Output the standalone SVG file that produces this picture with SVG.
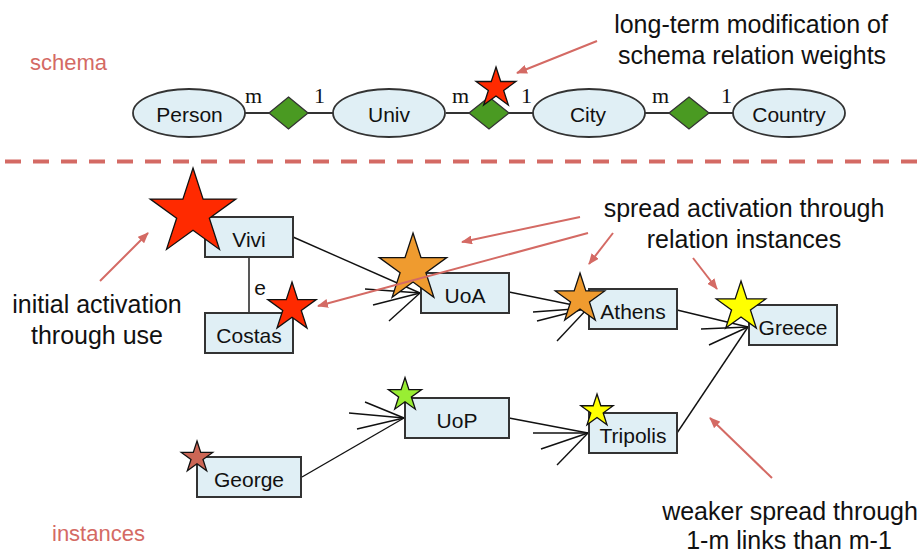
<svg xmlns="http://www.w3.org/2000/svg" xmlns:xlink="http://www.w3.org/1999/xlink" width="921" height="557" viewBox="0 0 921 557">
<style>
  .ann { font-family: "Liberation Sans", Arial, sans-serif; font-size: 25px; fill: #111; text-anchor: middle; }
  .sec { font-family: "Liberation Sans", Arial, sans-serif; font-size: 22px; fill: #d46a64; }
  .lbl { font-family: "Liberation Sans", Arial, sans-serif; font-size: 21px; fill: #111; text-anchor: middle; }
  .card { font-family: "Liberation Serif", "Times New Roman", serif; font-size: 22px; fill: #111; }
  .ent { fill: #e0eff5; stroke: #333; stroke-width: 1.8; }
  .box { fill: #e0eff5; stroke: #333; stroke-width: 2; }
  .dia { fill: #4a9a22; stroke: #333; stroke-width: 1.3; }
  .slink { stroke: #333; stroke-width: 2; fill: none; }
  .link { stroke: #111; stroke-width: 1.4; fill: none; }
  .note { stroke: #d46a64; stroke-width: 2; fill: none; marker-end: url(#ah); }
  .star { stroke: #111; stroke-width: 1.3; }
</style>
<defs>
  <marker id="ah" markerUnits="userSpaceOnUse" markerWidth="11" markerHeight="9" refX="10" refY="4.5" orient="auto">
    <path d="M0,0 L11,4.5 L0,9 z" fill="#d46a64"/>
  </marker>
  <polygon id="st" vector-effect="non-scaling-stroke" points="0,-1 0.2245,-0.309 0.9511,-0.309 0.3633,0.118 0.5878,0.809 0,0.382 -0.5878,0.809 -0.3633,0.118 -0.9511,-0.309 -0.2245,-0.309"/>
</defs>
<rect width="921" height="557" fill="#fff"/>

<!-- section labels -->
<text class="sec" x="30" y="70">schema</text>
<text class="sec" x="52" y="541">instances</text>
<line x1="5" y1="161.5" x2="921" y2="161.5" stroke="#d46a64" stroke-width="4" stroke-dasharray="16 12"/>

<!-- schema connectors -->
<g id="schema-links">
  <line class="slink" x1="245" y1="113" x2="269" y2="113"/>
  <line class="slink" x1="308" y1="113" x2="333" y2="113"/>
  <line class="slink" x1="446" y1="113" x2="469" y2="113"/>
  <line class="slink" x1="509" y1="113" x2="533" y2="113"/>
  <line class="slink" x1="645" y1="113" x2="669" y2="113"/>
  <line class="slink" x1="709" y1="113" x2="733" y2="113"/>
</g>
<g id="schema-cards">
  <text class="card" x="245" y="103">m</text>
  <text class="card" x="314" y="103">1</text>
  <text class="card" x="452" y="103">m</text>
  <text class="card" x="521" y="103">1</text>
  <text class="card" x="652" y="103">m</text>
  <text class="card" x="721" y="103">1</text>
</g>
<g id="Person"><ellipse class="ent" cx="189" cy="113" rx="56" ry="24"/><text class="lbl" x="189.5" y="122">Person</text></g>
<g id="Univ"><ellipse class="ent" cx="389" cy="113" rx="56" ry="24"/><text class="lbl" x="389" y="122">Univ</text></g>
<g id="City"><ellipse class="ent" cx="589" cy="113" rx="56" ry="24"/><text class="lbl" x="588" y="122">City</text></g>
<g id="Country"><ellipse class="ent" cx="789" cy="113" rx="56" ry="24"/><text class="lbl" x="789" y="122">Country</text></g>
<g id="rel1"><polygon class="dia" points="288.5,97 308,113 288.5,129 269,113"/></g>
<g id="rel2"><polygon class="dia" points="489,97 509,113 489,129 469,113"/></g>
<g id="rel3"><polygon class="dia" points="689,97 709,113 689,129 669,113"/></g>
<use xlink:href="#st" class="star" fill="#ff2a00" transform="translate(496 88) scale(21)"/>

<!-- instance connectors -->
<g id="connectors">
  <line class="link" x1="249" y1="257" x2="249" y2="313"/>
  <!-- into UoA -->
  <line class="link" x1="293" y1="237" x2="420" y2="293"/>
  <line class="link" x1="365" y1="289" x2="420" y2="293"/>
  <line class="link" x1="373" y1="305" x2="420" y2="293"/>
  <line class="link" x1="389" y1="321" x2="420" y2="293"/>
  <!-- into Athens -->
  <line class="link" x1="509" y1="292" x2="588" y2="308"/>
  <line class="link" x1="533" y1="312" x2="588" y2="308"/>
  <line class="link" x1="537" y1="321" x2="588" y2="308"/>
  <line class="link" x1="557" y1="341" x2="588" y2="308"/>
  <!-- into Greece -->
  <line class="link" x1="677" y1="310" x2="748" y2="327"/>
  <line class="link" x1="701" y1="329" x2="748" y2="327"/>
  <line class="link" x1="709" y1="345" x2="748" y2="327"/>
  <line class="link" x1="677" y1="433" x2="748" y2="327"/>
  <!-- into UoP -->
  <line class="link" x1="302" y1="477" x2="404" y2="418"/>
  <line class="link" x1="365" y1="402" x2="404" y2="418"/>
  <line class="link" x1="349" y1="413" x2="404" y2="418"/>
  <line class="link" x1="357" y1="429" x2="404" y2="418"/>
  <!-- into Tripolis -->
  <line class="link" x1="509" y1="418" x2="588" y2="433"/>
  <line class="link" x1="533" y1="433" x2="588" y2="433"/>
  <line class="link" x1="541" y1="449" x2="588" y2="433"/>
  <line class="link" x1="557" y1="465" x2="588" y2="433"/>
</g>
<text class="lbl" x="260" y="295">e</text>

<!-- instance nodes -->
<g id="Vivi"><rect class="box" x="205" y="217" width="88" height="40"/><text class="lbl" x="249" y="247">Vivi</text></g>
<g id="Costas"><rect class="box" x="205" y="313" width="88" height="40"/><text class="lbl" x="249" y="343">Costas</text></g>
<g id="UoA"><rect class="box" x="421" y="273" width="88" height="40"/><text class="lbl" x="465" y="303">UoA</text></g>
<g id="Athens"><rect class="box" x="589" y="289" width="88" height="40"/><text class="lbl" x="633" y="319">Athens</text></g>
<g id="Greece"><rect class="box" x="749" y="305" width="88" height="40"/><text class="lbl" x="793" y="335">Greece</text></g>
<g id="UoP"><rect class="box" x="405" y="398" width="104" height="40"/><text class="lbl" x="457" y="428">UoP</text></g>
<g id="Tripolis"><rect class="box" x="589" y="413" width="88" height="40"/><text class="lbl" x="633" y="443">Tripolis</text></g>
<g id="George"><rect class="box" x="197" y="457" width="104" height="40"/><text class="lbl" x="249" y="487">George</text></g>

<!-- activation stars -->
<g id="stars">
  <use xlink:href="#st" class="star" fill="#ff2a00" transform="translate(193 213) scale(45)"/>
  <use xlink:href="#st" class="star" fill="#ff2a00" transform="translate(292 307.5) scale(25.5)"/>
  <use xlink:href="#st" class="star" fill="#ef9b2f" transform="translate(413 268.5) scale(35.5)"/>
  <use xlink:href="#st" class="star" fill="#ef9b2f" transform="translate(580 299) scale(26)"/>
  <use xlink:href="#st" class="star" fill="#ffff00" transform="translate(741 307) scale(26)"/>
  <use xlink:href="#st" class="star" fill="#99ee33" transform="translate(405 395) scale(17.5)"/>
  <use xlink:href="#st" class="star" fill="#ffff00" transform="translate(597 411) scale(17)"/>
  <use xlink:href="#st" class="star" fill="#cc6655" transform="translate(197 457.5) scale(16.5)"/>
</g>

<!-- annotation arrows -->
<g id="notes">
  <line class="note" x1="597" y1="41" x2="517" y2="73"/>
  <line class="note" x1="100" y1="281" x2="148" y2="233"/>
  <line class="note" x1="580" y1="217" x2="462" y2="242"/>
  <line class="note" x1="588" y1="233" x2="318" y2="306"/>
  <line class="note" x1="613" y1="233" x2="589" y2="264"/>
  <line class="note" x1="693" y1="258" x2="717" y2="289"/>
  <line class="note" x1="772" y1="478" x2="710" y2="418"/>
</g>

<!-- annotation texts -->
<g id="annotations">
  <text class="ann" x="751" y="33">long-term modification of</text>
  <text class="ann" x="752" y="64">schema relation weights</text>
  <text class="ann" x="744" y="217">spread activation through</text>
  <text class="ann" x="744" y="248">relation instances</text>
  <text class="ann" x="97" y="313">initial activation</text>
  <text class="ann" x="97" y="344">through use</text>
  <text class="ann" x="790" y="520" font-size="24.5">weaker spread through</text>
  <text class="ann" x="789" y="549" font-size="24.5">1-m links than m-1</text>
</g>
</svg>
